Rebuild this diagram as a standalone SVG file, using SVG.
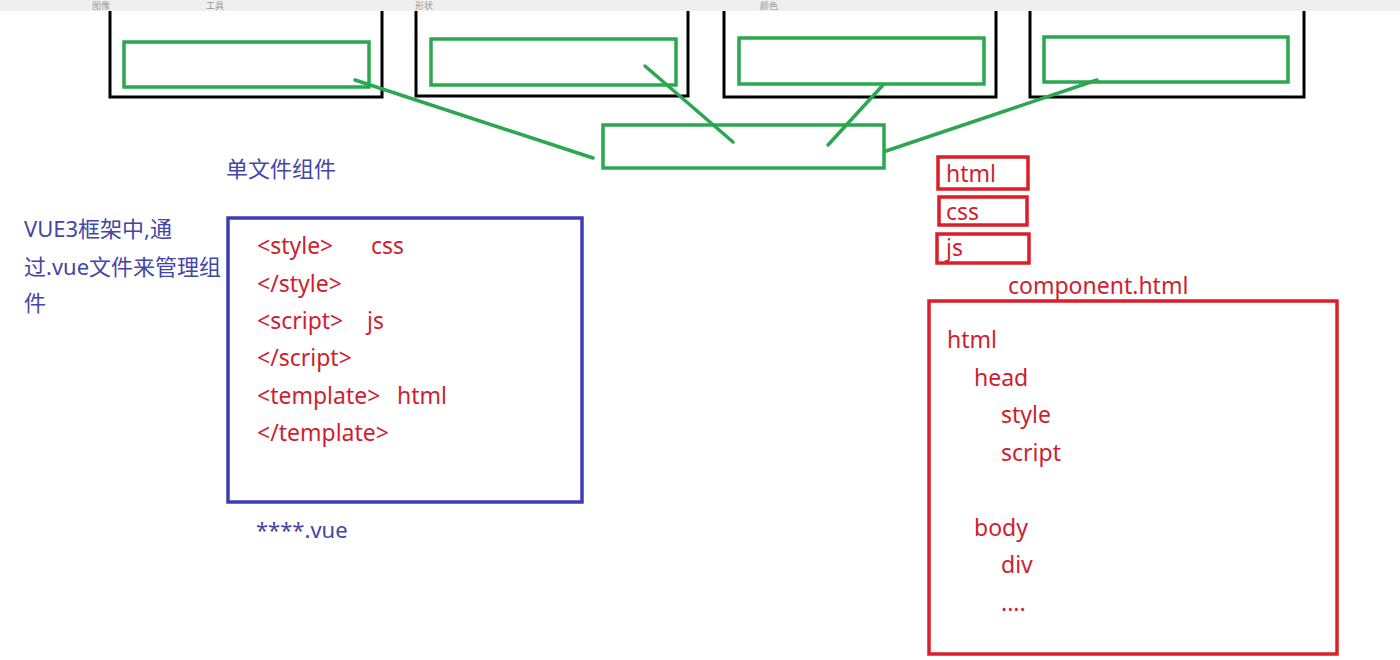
<svg xmlns="http://www.w3.org/2000/svg" width="1400" height="660" viewBox="0 0 1400 660">
<style>
.blk{fill:none;stroke:#000;stroke-width:3}
.grn{fill:none;stroke:#2aa850;stroke-width:3.5}
.gl{stroke:#2aa850;stroke-width:3.5;stroke-linecap:round}
.blue{fill:none;stroke:#3c3cb4;stroke-width:3.5}
.red{fill:none;stroke:#dc1e2a;stroke-width:3.5}
.tb{font-family:"Noto Sans","Noto Sans CJK SC",sans-serif;font-size:22px;fill:#4545a8}
.tr{font-family:"Noto Sans","Noto Sans CJK SC",sans-serif;font-size:23px;fill:#cf1e30}
.tg{font-family:"Noto Sans CJK SC",sans-serif;font-size:9px;fill:#999}
</style>
<rect width="1400" height="660" fill="#fff"/>
<g id="toolbar">
<rect x="0" y="0" width="1400" height="11" fill="#efefef"/>
<text class="tg" x="92" y="9">图像</text>
<text class="tg" x="206" y="9">工具</text>
<text class="tg" x="415" y="9">形状</text>
<text class="tg" x="760" y="9">颜色</text>
</g>
<g id="panel1"><path class="blk" d="M110 11V97H382V11"/><rect class="grn" x="124" y="42" width="245" height="45"/></g>
<g id="panel2"><path class="blk" d="M416 11V96H688V11"/><rect class="grn" x="431" y="39" width="245" height="46"/></g>
<g id="panel3"><path class="blk" d="M724 11V97H996V11"/><rect class="grn" x="739" y="38" width="245" height="46"/></g>
<g id="panel4"><path class="blk" d="M1030 11V97H1304V11"/><rect class="grn" x="1044" y="37" width="244" height="45"/></g>
<g id="center"><rect class="grn" x="603" y="125" width="281" height="43"/></g>
<g id="connectors">
<line class="gl" x1="355" y1="80" x2="593" y2="158"/>
<line class="gl" x1="645" y1="66" x2="733" y2="142"/>
<line class="gl" x1="883" y1="85" x2="828" y2="145"/>
<line class="gl" x1="1097" y1="80" x2="886" y2="151"/>
</g>
<g id="title"><text class="tb" x="226" y="177">单文件组件</text></g>
<g id="desc">
<text class="tb" x="24" y="237">VUE3框架中,通</text>
<text class="tb" x="24" y="275">过.vue文件来管理组</text>
<text class="tb" x="24" y="311">件</text>
</g>
<g id="vuefile">
<rect class="blue" x="228" y="218" width="354" height="284"/>
<text class="tr" x="257" y="254">&lt;style&gt;</text><text class="tr" x="371" y="254">css</text>
<text class="tr" x="257" y="292">&lt;/style&gt;</text>
<text class="tr" x="257" y="329">&lt;script&gt;</text><text class="tr" x="367" y="329">js</text>
<text class="tr" x="257" y="366">&lt;/script&gt;</text>
<text class="tr" x="257" y="404">&lt;template&gt;</text><text class="tr" x="397" y="404">html</text>
<text class="tr" x="257" y="441">&lt;/template&gt;</text>
</g>
<g id="vuename"><text class="tb" x="256" y="538">****.vue</text></g>
<g id="box-html"><rect class="red" x="938" y="157" width="90" height="32"/><text class="tr" x="946" y="182">html</text></g>
<g id="box-css"><rect class="red" x="939" y="197" width="88" height="28"/><text class="tr" x="946" y="220">css</text></g>
<g id="box-js"><rect class="red" x="937" y="234" width="92" height="29"/><text class="tr" x="946" y="256">js</text></g>
<g id="component">
<text class="tr" x="1008" y="294">component.html</text>
<rect class="red" x="929" y="301" width="408" height="353"/>
<text class="tr" x="947" y="348">html</text>
<text class="tr" x="974" y="386">head</text>
<text class="tr" x="1001" y="423">style</text>
<text class="tr" x="1001" y="461">script</text>
<text class="tr" x="974" y="536">body</text>
<text class="tr" x="1001" y="573">div</text>
<text class="tr" x="1001" y="611">....</text>
</g>
</svg>
